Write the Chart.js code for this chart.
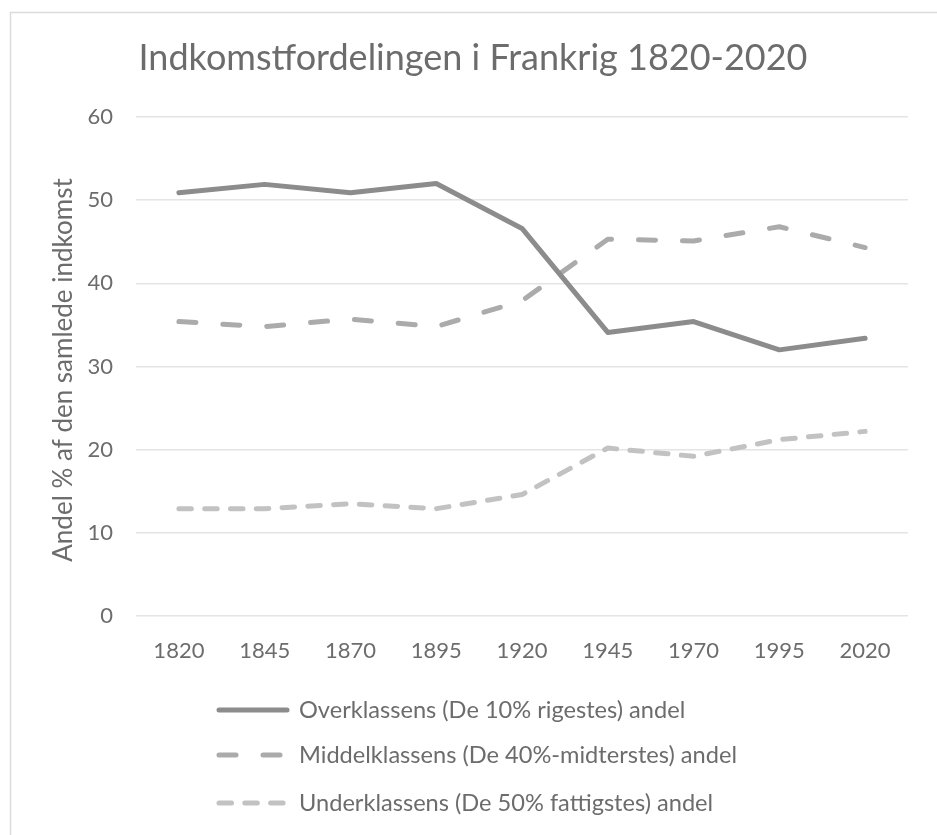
<!DOCTYPE html>
<html>
<head>
<meta charset="utf-8">
<script src="https://cdn.jsdelivr.net/npm/chart.js@4/dist/chart.umd.min.js"></script>
<style>
html,body{margin:0;padding:0;background:#fff;}
#wrap{width:937px;height:835px;position:relative;}
</style>
</head>
<body>
<div id="wrap"><canvas id="c" width="937" height="835"></canvas></div>
<script>
const categories = ['1820','1845','1870','1895','1920','1945','1970','1995','2020'];
const upperShare = [50.9, 51.9, 50.9, 52.0, 46.6, 34.1, 35.4, 32.0, 33.4];
const middleShare = [35.4, 34.8, 35.7, 34.8, 37.9, 45.3, 45.1, 46.8, 44.3];
const lowerShare = [12.9, 12.9, 13.5, 12.9, 14.6, 20.2, 19.2, 21.2, 22.2];
const seriesNames = [
  'Overklassens (De 10% rigestes) andel',
  'Middelklassens (De 40%-midterstes) andel',
  'Underklassens (De 50% fattigstes) andel'
];
const titleText = 'Indkomstfordelingen i Frankrig 1820-2020';
const yTitleText = 'Andel % af den samlede indkomst';

const FONT = 'Lato';
const TXT = '#6c6c6c';

const frame = {
  id: 'frame',
  beforeDraw(chart) {
    const ctx = chart.ctx;
    ctx.save();
    ctx.fillStyle = '#fff';
    ctx.fillRect(0, 0, chart.width, chart.height);
    ctx.strokeStyle = '#dcdcdc';
    ctx.lineWidth = 1.5;
    ctx.strokeRect(10.5, 12.5, chart.width + 20, chart.height + 20);
    ctx.restore();
  }
};

const extras = {
  id: 'extras',
  afterDraw(chart) {
    const ctx = chart.ctx;
    ctx.save();
    // y-axis title
    ctx.fillStyle = TXT;
    ctx.font = '26px ' + FONT;
    ctx.textAlign = 'center';
    ctx.textBaseline = 'middle';
    ctx.translate(64, 370);
    ctx.rotate(-Math.PI / 2);
    ctx.fillText(yTitleText, 0, 0);
    ctx.restore();
    // legend
    const rows = [710, 755, 803];
    chart.data.datasets.forEach((ds, i) => {
      const y = rows[i];
      ctx.save();
      ctx.strokeStyle = ds.borderColor;
      ctx.lineWidth = ds.borderWidth;
      ctx.lineCap = 'round';
      ctx.setLineDash(ds.legendDash || []);
      ctx.beginPath();
      ctx.moveTo(219, y);
      ctx.lineTo(287, y);
      ctx.stroke();
      ctx.restore();
      ctx.save();
      ctx.fillStyle = TXT;
      ctx.font = '23.6px ' + FONT;
      ctx.textAlign = 'left';
      ctx.textBaseline = 'middle';
      ctx.fillText(ds.label, 299, y);
      ctx.restore();
    });
  }
};

new Chart(document.getElementById('c'), {
  type: 'line',
  data: {
    labels: categories,
    datasets: [
      { label: seriesNames[0], data: upperShare, borderColor: '#8c8c8c', borderWidth: 5,
        borderCapStyle: 'round', borderJoinStyle: 'round', pointRadius: 0, tension: 0, legendDash: [] },
      { label: seriesNames[1], data: middleShare, borderColor: '#ababab', borderWidth: 5,
        borderDash: [17, 27], borderCapStyle: 'round', borderJoinStyle: 'round', pointRadius: 0, tension: 0, legendDash: [17, 27] },
      { label: seriesNames[2], data: lowerShare, borderColor: '#c2c2c2', borderWidth: 5,
        borderDash: [12.5, 13.3], borderCapStyle: 'round', borderJoinStyle: 'round', pointRadius: 0, tension: 0, legendDash: [12.5, 13.3] }
    ]
  },
  options: {
    responsive: false,
    animation: false,
    devicePixelRatio: 1,
    layout: { padding: { left: 38, right: 29, top: 0, bottom: 159 } },
    plugins: {
      legend: { display: false },
      tooltip: { enabled: false },
      title: {
        display: true,
        text: titleText,
        color: TXT,
        font: { family: FONT, size: 36, weight: 'normal', lineHeight: 1.2 },
        padding: { top: 37, bottom: 36.8 }
      }
    },
    scales: {
      x: {
        offset: true,
        grid: { display: false, drawTicks: false },
        border: { display: false },
        ticks: { color: TXT, font: { family: FONT, size: 22 }, padding: 22, maxRotation: 0 },
        afterFit(s) { s.height = 60; }
      },
      y: {
        min: 0, max: 60,
        grid: { color: '#e4e4e4', lineWidth: 1.5, drawTicks: false },
        border: { display: false },
        ticks: { stepSize: 10, color: TXT, font: { family: FONT, size: 22 }, padding: 23 },
        afterFit(s) { s.width = 98; }
      }
    }
  },
  plugins: [frame, extras]
});
</script>
</body>
</html>
